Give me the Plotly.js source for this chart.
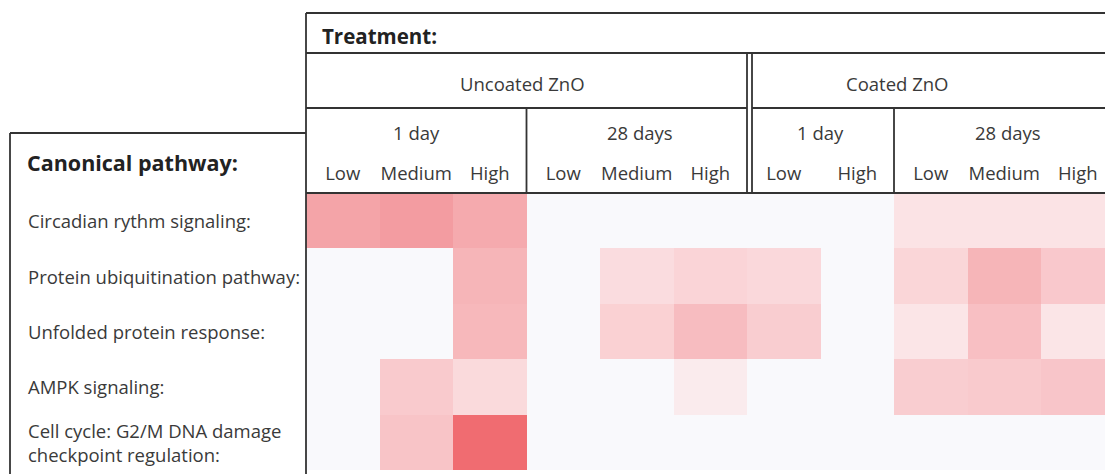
<!DOCTYPE html>
<html><head><meta charset="utf-8">
<script src="https://cdn.plot.ly/plotly-3.0.1.min.js"></script>
<style>html,body{margin:0;padding:0;background:#fff}</style>
</head><body><div id="chart" style="width:1105px;height:474px"></div>
<script>
// ---- data ----
const pathwayLabels = [
  'Circadian rythm signaling:',
  'Protein ubiquitination pathway:',
  'Unfolded protein response:',
  'AMPK signaling:',
  'Cell cycle: G2/M DNA damage<br>checkpoint regulation:'
];
const treatments = ['Uncoated ZnO', 'Coated ZnO'];
const durations = ['1 day', '28 days', '1 day', '28 days'];
const doses = ['Low','Medium','High','Low','Medium','High','Low','High','Low','Medium','High'];
// columns: Uncoated 1d L/M/H, Uncoated 28d L/M/H, Coated 1d L/H, Coated 28d L/M/H
const circadian   = [0.60, 0.65, 0.56, 0, 0,    0,    0,    0, 0.16, 0.16, 0.16];
const ubiquitin   = [0,    0,    0.49, 0, 0.21, 0.27, 0.24, 0, 0.26, 0.49, 0.36];
const unfolded    = [0,    0,    0.47, 0, 0.30, 0.44, 0.33, 0, 0.14, 0.42, 0.14];
const ampk        = [0,    0.35, 0.23, 0, 0,    0.10, 0,    0, 0.33, 0.35, 0.38];
const cellCycle   = [0,    0.39, 0.98, 0, 0,    0,    0,    0, 0,    0,    0   ];

// ---- geometry ----
const W = 1105, H = 474, L = 306, R = 0, T = 193, B = 4;
const plotW = W - L - R, plotH = H - T - B;
const px = p => (p - L) / plotW;
const py = p => (H - B - p) / plotH;
const colW = 73.5;
const xMax = -0.5 + plotW / colW;

const z = [circadian, ubiquitin, unfolded, ampk, cellCycle];
const xIdx = doses.map((_, i) => i);
const yIdx = pathwayLabels.map((_, i) => i);

const trace = {
  type: 'heatmap', z: z, x: xIdx, y: yIdx,
  zmin: 0, zmax: 1, showscale: false, hoverinfo: 'skip',
  colorscale: [[0,'#f9f9fc'],[0.15,'#fbe4e6'],[0.35,'#f9cacd'],[0.5,'#f6b3b7'],[0.65,'#f39ca1'],[1,'#f0696e']]
};

const lc = '#333';
const lw = 1.8;
function hline(y, x0, x1){ return {type:'line', xref:'paper', yref:'paper', x0:px(x0), x1:px(x1), y0:py(y), y1:py(y), line:{color:lc, width:lw}, layer:'above'}; }
function vlineData(x, y0, y1){ return {type:'line', xref:'x', yref:'paper', x0:x, x1:x, y0:py(y0), y1:py(y1), line:{color:lc, width:lw}, layer:'above'}; }
function vline(x, y0, y1){ return {type:'line', xref:'paper', yref:'paper', x0:px(x), x1:px(x), y0:py(y0), y1:py(y1), line:{color:lc, width:lw}, layer:'above'}; }

const shapes = [
  hline(13, 306, 1110),
  hline(53, 306, 1110),
  hline(108, 306, 747),
  hline(108, 752, 1110),
  hline(193, 306, 1110),
  vline(306, 13, 480),
  vlineData(2.5, 108, 193),
  vlineData(5.5, 53, 193),
  vlineData(5.5 + 5/colW, 53, 193),
  vlineData(7.5, 108, 193),
  hline(133, 10, 306),
  vline(10, 133, 480)
];

const txt = '#3a3a3a';
const fam = '"Open Sans", sans-serif';
const fs = 18.5;
const annotations = [];
annotations.push({xref:'paper', yref:'paper', x:px(320), y:py(36), xanchor:'left', yanchor:'middle', text:'<b>Treatment:</b>', showarrow:false, font:{family:fam, size:20.5, color:'#222'}});
annotations.push({xref:'paper', yref:'paper', x:px(25), y:py(162), xanchor:'left', yanchor:'middle', text:'<b>Canonical pathway:</b>', showarrow:false, font:{family:fam, size:21.5, color:'#222'}});
const treatX = [2.45, 7.55];
treatments.forEach((t, i) => annotations.push({xref:'x', yref:'paper', x:treatX[i], y:py(84), xanchor:'center', yanchor:'middle', text:t, showarrow:false, font:{family:fam, size:fs, color:txt}}));
const durX = [1, 4.05, 6.5, 9.05];
durations.forEach((d, i) => annotations.push({xref:'x', yref:'paper', x:durX[i], y:py(132), xanchor:'center', yanchor:'middle', text:d, showarrow:false, font:{family:fam, size:fs, color:txt}}));
pathwayLabels.forEach((p, i) => annotations.push({xref:'paper', yref:'y', x:px(26), y:i, xanchor:'left', yanchor:'middle', align:'left', text:p, showarrow:false, font:{family:fam, size:fs, color:txt}}));

const layout = {
  width: W, height: H,
  margin: {l:L, r:R, t:T, b:B, pad:0},
  paper_bgcolor: '#ffffff', plot_bgcolor: '#f9f9fc',
  xaxis: {side:'top', range:[-0.5, xMax], tickvals:xIdx, ticktext:doses, ticks:'', showgrid:false, zeroline:false, showline:false,
          tickfont:{family:fam, size:fs, color:txt}, ticklabelstandoff:8, fixedrange:true},
  yaxis: {range:[4.5, -0.5], showticklabels:false, showgrid:false, zeroline:false, showline:false, ticks:'', fixedrange:true},
  shapes: shapes, annotations: annotations, showlegend:false
};
Plotly.newPlot('chart', [trace], layout, {displayModeBar:false, staticPlot:true});
</script></body></html>
